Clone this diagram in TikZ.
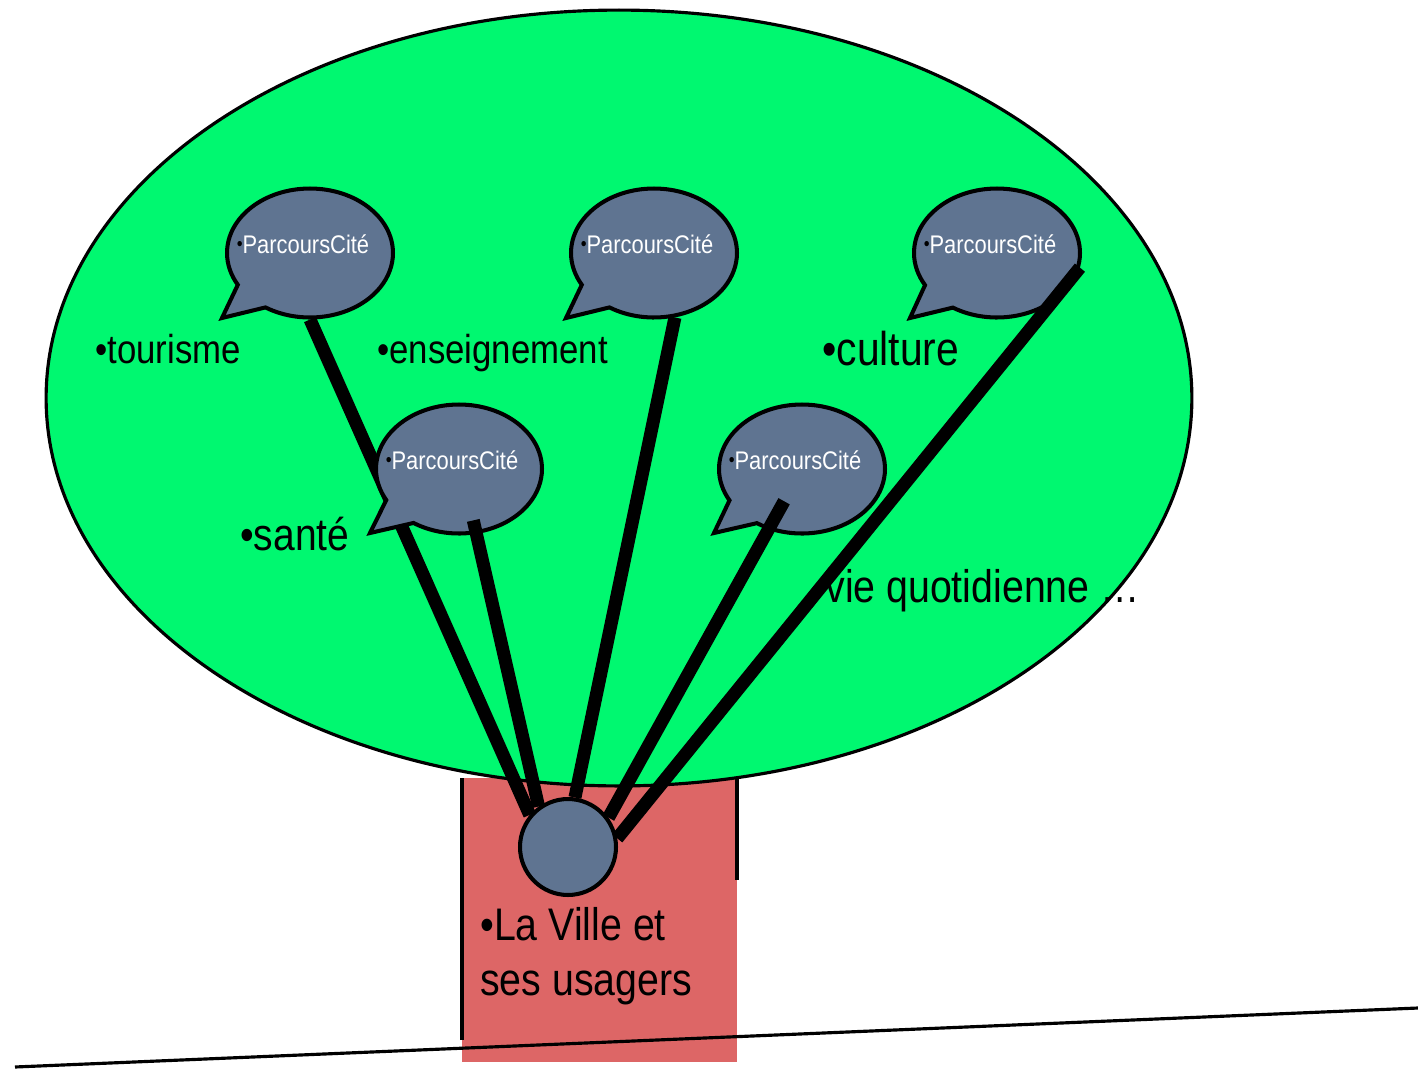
\documentclass[tikz,border=0pt]{standalone}
\usepackage{fontspec}
\setmainfont[FakeStretch=0.86]{Liberation Sans}
\usetikzlibrary{shapes.callouts}
\pgfdeclarelayer{devant}
\pgfsetlayers{main,devant}

\definecolor{feuillage}{RGB}{0,248,112}
\definecolor{tronc}{RGB}{221,102,102}
\definecolor{ardoise}{RGB}{95,116,145}
\newcommand{\puce}{\raisebox{1.5pt}{\color{black}\fontsize{11}{11}\selectfont\textbullet}}
\newcommand{\parcours}{\makebox[0pt]{\hspace*{-8pt}\raisebox{0pt}[0pt][0pt]{\puce ParcoursCité}}}

\begin{document}
\begin{tikzpicture}[x=0.02cm, y=-0.02cm,
  bulle/.style={ellipse callout, draw=black, line width=2.3pt, fill=ardoise,
    minimum width=3.32cm, minimum height=2.58cm, inner sep=0pt,
    callout pointer arc=28, text=white, font=\fontsize{14.5}{16}\selectfont},
  racine/.style={circle, draw=black, line width=2.3pt, fill=ardoise,
    minimum size=1.92cm, inner sep=0pt},
  lien/.style={line width=7.4pt},
  mot/.style={anchor=base west, inner sep=0pt}]
\useasboundingbox (0,0) rectangle (1418,1069);

% Ствол
\fill[tronc] (462,778) rectangle (737,1062);
\draw[line width=1.8pt] (462,778) -- (462,1040);
\draw[line width=1.8pt] (737,778) -- (737,880);

% Земля
\draw[line width=1.8pt] (15,1067) -- (1418,1008);

% Крона
\draw[line width=1.8pt, fill=feuillage] (619,398) ellipse [x radius=11.46cm, y radius=7.76cm];

% Подписи
\node[mot, font=\fontsize{23}{26}\selectfont] (tourisme) at (95,363) {•tourisme};
\node[mot, font=\fontsize{23}{26}\selectfont] (enseignement) at (377,363) {•enseignement};
\node[mot, font=\fontsize{27}{30}\selectfont] (culture) at (822,365) {•culture};
\node[mot, font=\fontsize{25.8}{30}\selectfont] (sante) at (240,550) {•santé};
\node[mot, font=\fontsize{26}{30}\selectfont] (quotidien) at (825,602) {vie quotidienne …};
\node[mot, font=\fontsize{26}{30}\selectfont] (ville) at (480,940) {•La Ville et};
\node[mot, font=\fontsize{26}{30}\selectfont] (usagers) at (480,995) {ses usagers};

% Центр
\begin{pgfonlayer}{devant}
\node[racine] (centre) at (568,847) {};
\end{pgfonlayer}

% Пузыри
\node[bulle, callout absolute pointer={(222,318)}] (b1) at (310,253) {\parcours};
\node[bulle, callout absolute pointer={(566,318)}] (b2) at (654,253) {\parcours};
\node[bulle, callout absolute pointer={(910,318)}] (b3) at (997,253) {\parcours};
\node[bulle, callout absolute pointer={(714,533)}] (b5) at (802,469) {\parcours};

\draw[lien] (b1.south) -- (centre.140);
\node[bulle, callout absolute pointer={(370,533)}] (b4) at (459,469) {\parcours};

% Связи
\draw[lien, shorten <=-8pt] (b4.-75) -- (centre.126);
\draw[lien] (b2.-72) -- (centre.82);
\draw[lien, shorten <=21pt] (b5.center) -- (centre.36);
\draw[lien] (b3.-10) -- (centre.10);

\end{tikzpicture}
\end{document}
